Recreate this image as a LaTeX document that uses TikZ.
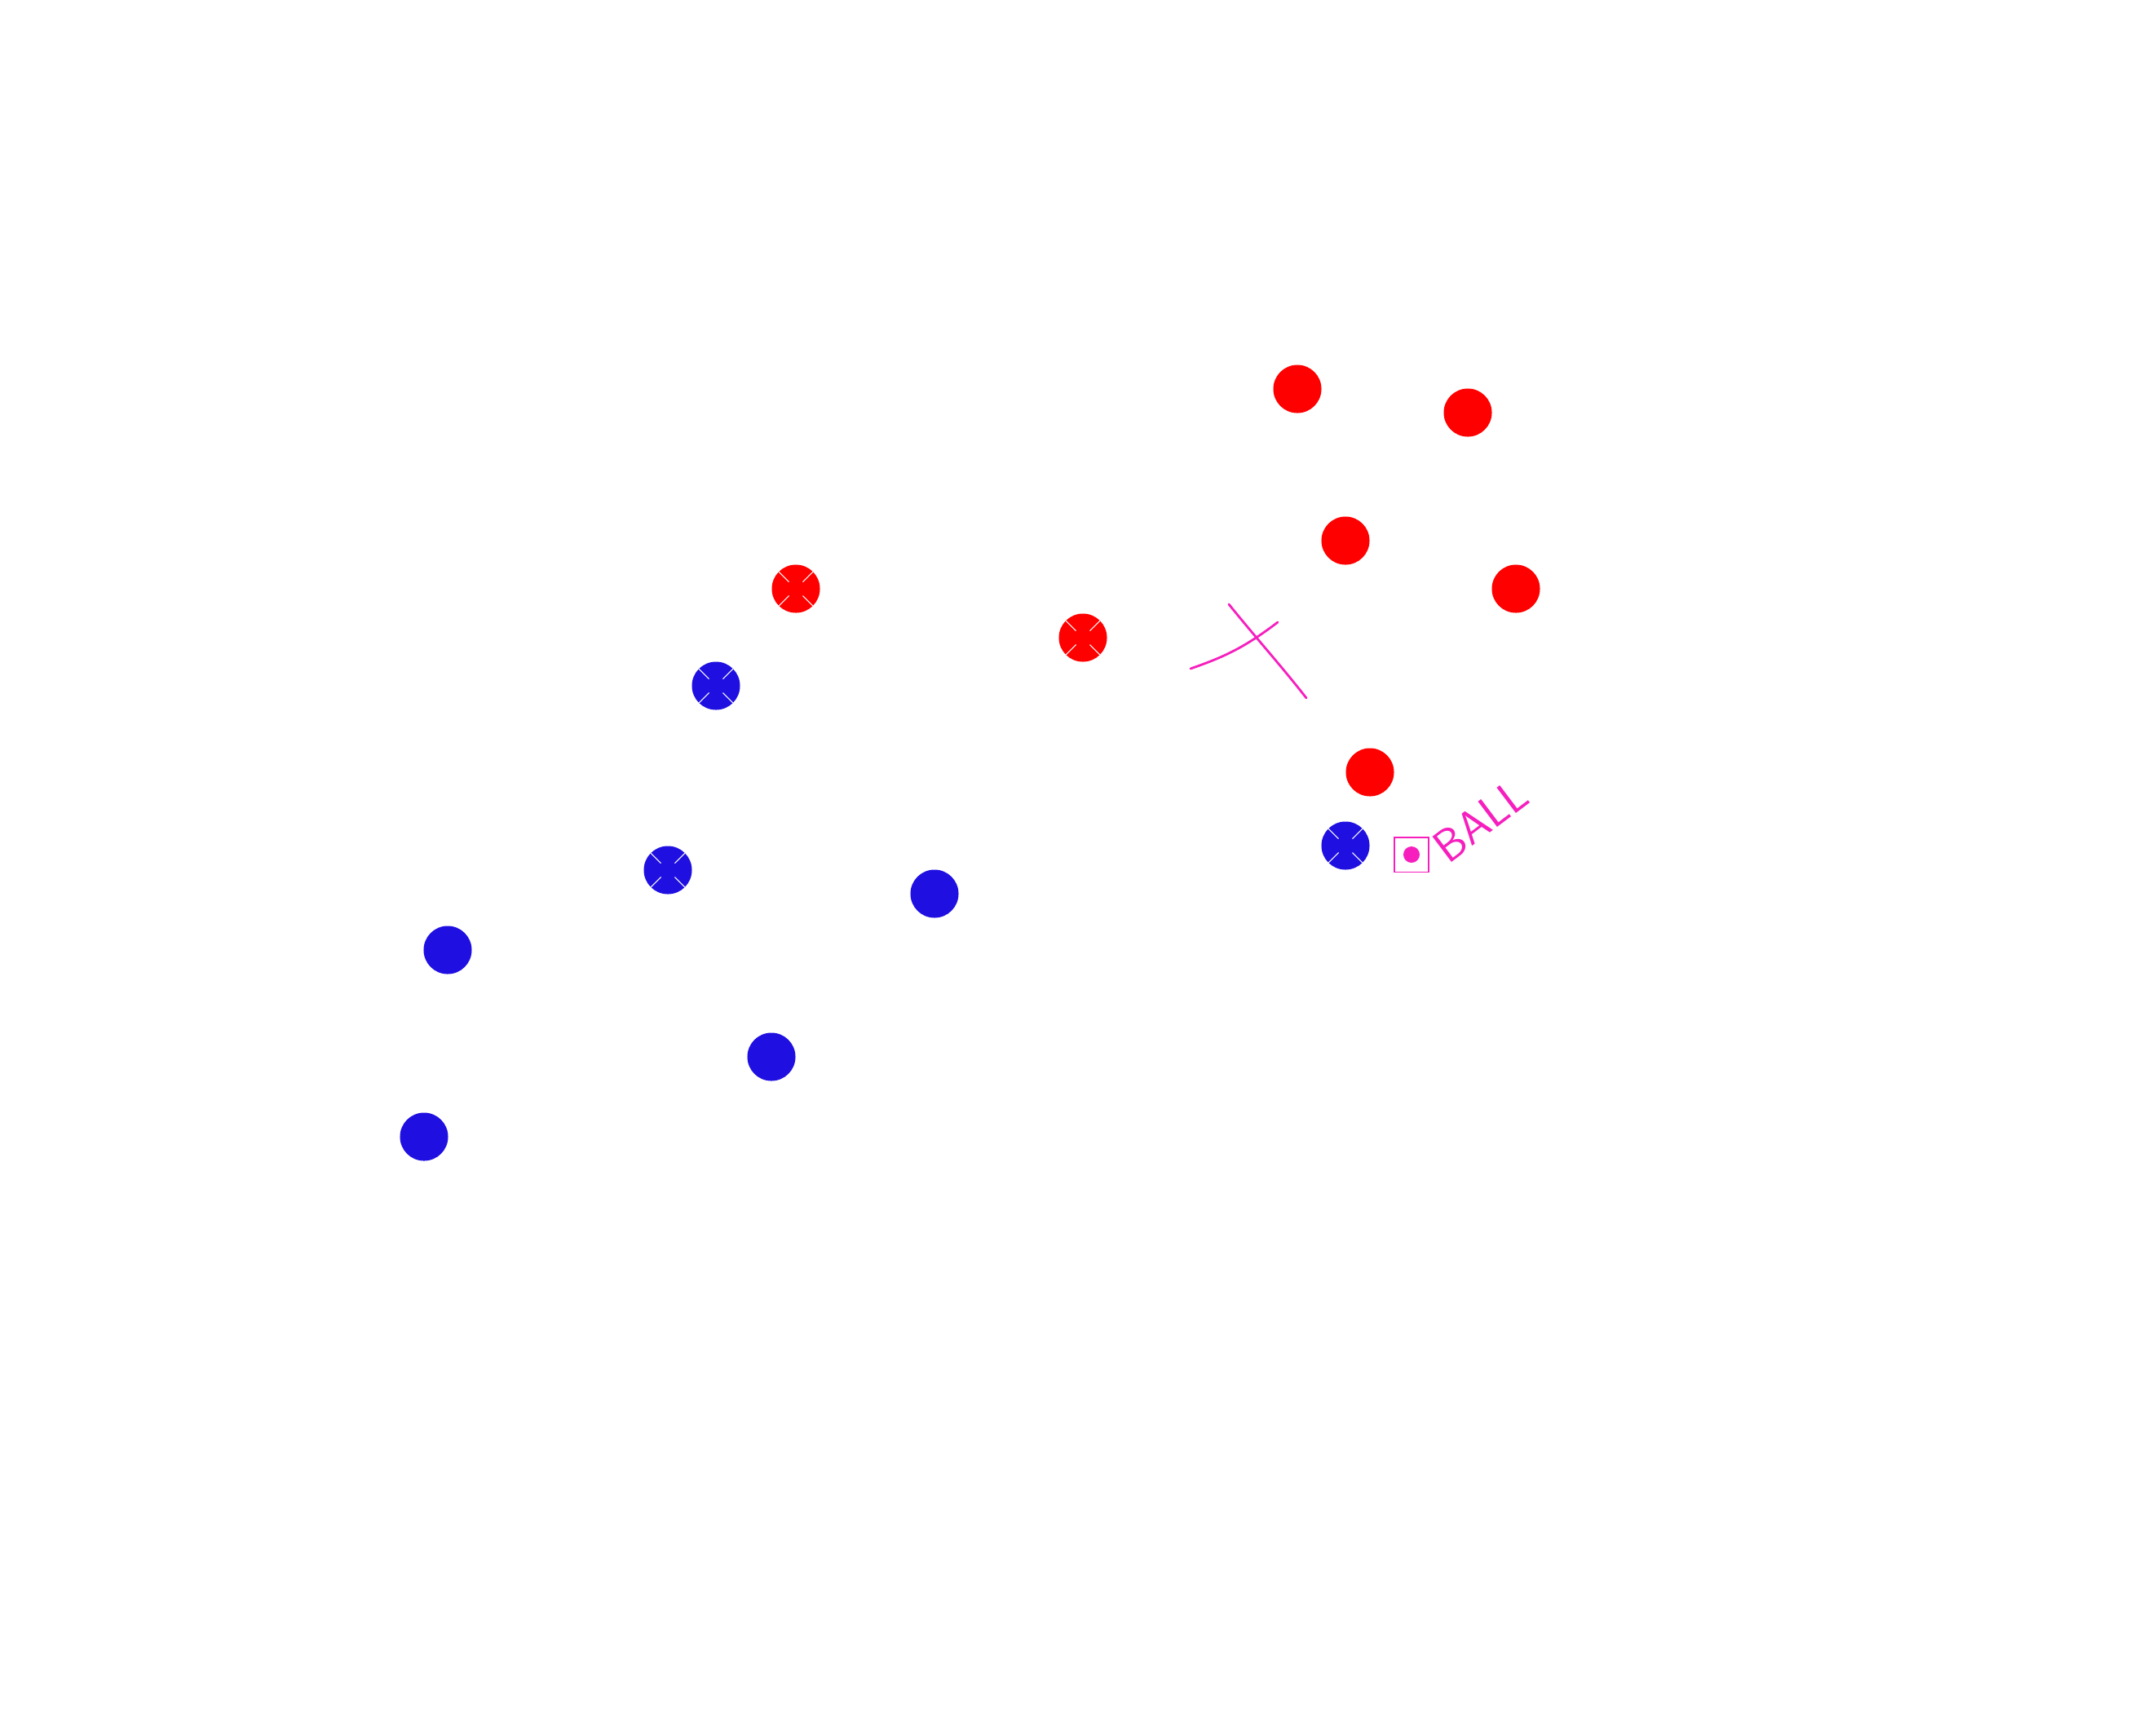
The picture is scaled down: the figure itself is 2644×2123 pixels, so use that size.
\documentclass[tikz,border=0pt]{standalone}
\usepackage{tikz}
\usetikzlibrary{positioning}
\definecolor{TeamRed}{HTML}{FF0000}
\definecolor{TeamBlue}{HTML}{1F10E1}
\definecolor{Marker}{HTML}{F61FBE}
\tikzset{
  player/.style={circle,inner sep=0pt,minimum size=5.9mm},
  redp/.style={player,fill=TeamRed},
  bluep/.style={player,fill=TeamBlue},
  crossed/.style={path picture={
      \foreach \a in {45,135,225,315}
        \draw[white,line width=0.3pt]
          (path picture bounding box.center) ++(\a:1.2mm) -- ++(\a:1.75mm);}},
  ballbox/.style={draw=Marker,line width=0.3pt,inner sep=0pt,minimum size=4.2mm},
  pen/.style={Marker,line width=0.8pt,line cap=round}
}
\begin{document}
\begin{tikzpicture}[x=0.01cm,y=-0.01cm]
  \useasboundingbox (0,0) rectangle (2644,2123);

  % red side
  \node[redp] (r1) at (1591,477) {};
  \node[redp] (r2) at (1800,506) {};
  \node[redp] (r3) at (1650,663) {};
  \node[redp] (r4) at (1859,722) {};
  \node[redp] (r5) at (1680,947) {};
  \node[redp,crossed] (r6) at (976,722) {};
  \node[redp,crossed] (r7) at (1328,782) {};

  % blue side
  \node[bluep,crossed] (b1) at (878,841) {};
  \node[bluep,crossed] (b2) at (819,1067) {};
  \node[bluep,crossed] (b3) at (1650,1037) {};
  \node[bluep] (b4) at (1146,1096) {};
  \node[bluep] (b5) at (549,1165) {};
  \node[bluep] (b6) at (946,1296) {};
  \node[bluep] (b7) at (520,1394) {};

  % ball
  \node[ballbox] (ball) at (1731,1048) {};
  \fill[Marker] (ball.center) circle (1mm);
  \node[font=\sffamily\fontsize{16}{16}\selectfont,text=Marker,rotate=37,inner sep=0pt]
    (balltext) at (1816,1006) {BALL};

  % hand drawn mark
  \draw[pen] (1507,741) .. controls (1540,782) and (1570,815) .. (1602,856);
  \draw[pen] (1460,820) .. controls (1500,806) and (1525,795) .. (1567,763);
\end{tikzpicture}
\end{document}
